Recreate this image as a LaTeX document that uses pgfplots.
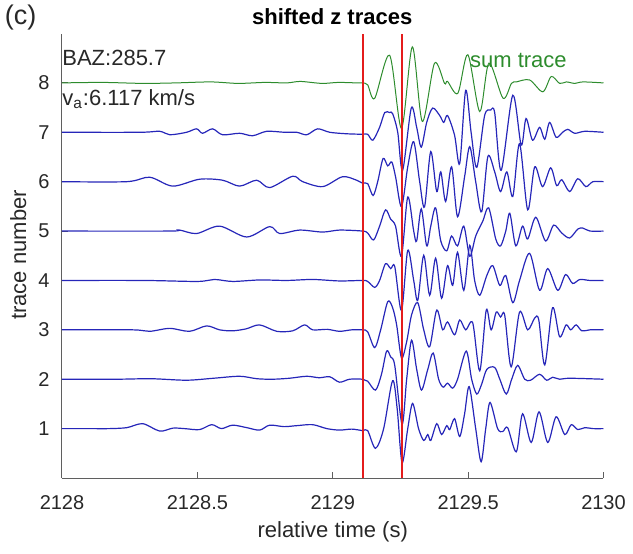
\documentclass[border=0pt]{standalone}
\usepackage{fontspec}
\setmainfont{Liberation Sans}
\usepackage{pgfplots}
\pgfplotsset{compat=1.18}

\definecolor{trblue}{RGB}{38,38,185}
\definecolor{trgreen}{RGB}{45,140,45}
\definecolor{trred}{RGB}{228,28,28}
\definecolor{axgray}{RGB}{95,95,95}
\definecolor{txtgray}{RGB}{40,40,40}

\begin{document}
\begin{tikzpicture}
\useasboundingbox (-31pt,-37.5pt) rectangle (285.5pt,239pt);
\begin{axis}[
  at={(0,0)}, anchor=south west,
  scale only axis, width=270.75pt, height=222.25pt,
  xmin=2128, xmax=2130, ymin=0, ymax=9,
  axis x line*=bottom, axis y line*=left,
  axis line style={axgray, line width=0.5pt},
  tick style={axgray, line width=0.5pt},
  tick align=inside, major tick length=3pt,
  xtick={2128,2128.5,2129,2129.5,2130},
  xticklabels={2128,2128.5,2129,2129.5,2130},
  ytick={1,2,3,4,5,6,7,8},
  /pgf/number format/assume math mode=true,
  ticklabel style={font=\fontsize{10}{12}\selectfont, text=txtgray},
  xticklabel style={anchor=base, inner sep=0pt, yshift=-15.5pt},
  yticklabel style={anchor=east, inner sep=0pt, xshift=-6pt},
  xlabel={relative time (s)},
  ylabel={trace number},
  label style={font=\fontsize{11}{13}\selectfont, text=txtgray},
  xlabel style={at={(axis description cs:0.5,-0.121)}, anchor=center, inner sep=0pt},
  ylabel style={at={(axis description cs:-0.081,0.502)}, anchor=center, rotate=0, inner sep=0pt},
  clip=false,
]

% trace 1
\addplot[trblue, line width=0.6pt, smooth, tension=0.5] table {
t y
2128.000 1.00
2128.100 1.00
2128.176 1.00
2128.240 1.02
2128.298 1.10
2128.361 0.95
2128.410 1.01
2128.453 1.00
2128.508 0.98
2128.553 1.08
2128.589 1.00
2128.630 1.07
2128.682 1.02
2128.730 0.97
2128.767 1.07
2128.820 1.04
2128.867 1.06
2128.926 1.08
2128.978 1.00
2129.025 0.97
2129.070 0.99
2129.110 0.96
2129.129 0.96
2129.158 0.60
2129.188 1.00
2129.221 1.97
2129.238 1.40
2129.256 0.31
2129.277 1.00
2129.295 1.51
2129.317 1.00
2129.336 0.76
2129.351 0.88
2129.362 0.76
2129.384 1.10
2129.402 0.88
2129.421 1.06
2129.432 0.98
2129.450 1.20
2129.469 0.84
2129.487 1.30
2129.504 1.85
2129.528 1.00
2129.548 0.33
2129.565 1.00
2129.581 1.53
2129.609 1.00
2129.628 0.94
2129.646 1.02
2129.678 0.53
2129.701 1.30
2129.733 0.72
2129.762 1.34
2129.794 0.72
2129.825 1.24
2129.857 0.88
2129.881 1.08
2129.905 0.98
2129.931 1.02
2129.961 1.00
2130.000 1.00
};

% trace 2
\addplot[trblue, line width=0.6pt, smooth, tension=0.5] table {
t y
2128.000 2.00
2128.200 2.00
2128.330 2.01
2128.460 1.98
2128.560 2.02
2128.656 2.06
2128.720 2.01
2128.778 2.00
2128.840 2.02
2128.904 2.06
2128.950 2.03
2128.989 2.05
2129.025 1.94
2129.062 2.00
2129.110 2.00
2129.129 1.96
2129.158 1.78
2129.180 2.10
2129.199 2.57
2129.214 2.45
2129.229 2.28
2129.256 1.09
2129.273 2.00
2129.291 2.79
2129.310 2.20
2129.328 1.78
2129.351 2.20
2129.371 2.53
2129.391 2.00
2129.408 1.84
2129.424 1.92
2129.443 1.82
2129.461 2.00
2129.493 2.57
2129.513 2.00
2129.532 1.70
2129.550 1.90
2129.569 2.20
2129.598 2.24
2129.617 2.00
2129.641 1.70
2129.661 2.00
2129.683 2.28
2129.709 2.00
2129.731 1.98
2129.764 2.10
2129.790 1.98
2129.812 2.04
2129.838 2.00
2129.875 2.02
2130.000 2.00
};

% trace 3
\addplot[trblue, line width=0.6pt, smooth, tension=0.5] table {
t y
2128.000 3.00
2128.261 3.00
2128.324 2.97
2128.398 3.03
2128.471 2.97
2128.534 3.08
2128.582 3.00
2128.630 2.98
2128.680 3.02
2128.730 3.10
2128.793 2.97
2128.852 2.98
2128.896 3.10
2128.926 3.00
2128.980 3.01
2129.025 2.97
2129.070 3.00
2129.110 3.00
2129.129 2.96
2129.155 2.64
2129.177 3.00
2129.203 3.57
2129.221 3.45
2129.236 3.10
2129.254 2.43
2129.273 2.76
2129.291 3.30
2129.314 3.55
2129.336 3.00
2129.358 2.66
2129.384 3.40
2129.406 3.00
2129.424 3.16
2129.450 2.90
2129.469 3.20
2129.491 3.00
2129.517 3.14
2129.543 2.17
2129.567 3.40
2129.585 3.00
2129.604 3.36
2129.620 3.26
2129.635 3.30
2129.659 2.25
2129.690 3.36
2129.720 3.00
2129.746 3.24
2129.761 3.20
2129.783 2.29
2129.812 3.45
2129.838 2.86
2129.862 3.10
2129.879 3.00
2129.899 3.10
2129.920 2.98
2129.950 3.00
2130.000 3.00
};

% trace 4
\addplot[trblue, line width=0.6pt, smooth, tension=0.5] table {
t y
2128.000 4.00
2128.300 4.00
2128.501 3.98
2128.563 4.02
2128.630 3.98
2128.730 4.01
2128.830 4.00
2128.926 4.02
2129.025 3.99
2129.110 4.00
2129.129 3.98
2129.155 3.86
2129.173 4.00
2129.195 4.34
2129.214 4.24
2129.229 4.28
2129.254 3.39
2129.277 4.61
2129.299 4.00
2129.314 3.60
2129.336 4.51
2129.358 3.70
2129.380 4.45
2129.402 3.64
2129.424 4.30
2129.443 3.90
2129.461 4.57
2129.484 3.80
2129.506 4.71
2129.524 4.00
2129.543 3.70
2129.569 4.10
2129.591 4.30
2129.617 3.90
2129.639 4.10
2129.665 3.55
2129.690 4.00
2129.727 4.55
2129.764 3.80
2129.794 4.24
2129.831 3.80
2129.860 4.12
2129.886 3.94
2129.913 4.02
2129.950 4.00
2130.000 4.00
};

% trace 5
\addplot[trblue, line width=0.6pt, smooth, tension=0.5] table {
t y
2128.000 5.00
2128.398 5.00
2128.434 5.02
2128.497 4.95
2128.582 5.10
2128.682 4.88
2128.767 5.09
2128.804 4.95
2128.878 5.02
2128.963 4.98
2129.025 5.02
2129.110 5.00
2129.129 4.96
2129.151 4.82
2129.173 5.10
2129.195 5.43
2129.214 5.24
2129.232 5.10
2129.254 4.49
2129.277 5.69
2129.299 5.00
2129.310 4.80
2129.327 5.45
2129.347 4.70
2129.362 5.10
2129.380 5.47
2129.399 4.80
2129.421 4.60
2129.439 4.90
2129.461 4.70
2129.484 5.10
2129.506 4.49
2129.528 4.90
2129.554 5.20
2129.576 5.47
2129.602 4.84
2129.620 4.70
2129.639 5.00
2129.654 5.36
2129.676 4.70
2129.701 5.10
2129.720 4.84
2129.750 5.28
2129.786 4.80
2129.816 5.12
2129.846 4.96
2129.875 4.86
2129.905 5.04
2129.924 5.06
2129.950 5.00
2130.000 5.00
};

% trace 6
\addplot[trblue, line width=0.6pt, smooth, tension=0.5] table {
t y
2128.000 6.00
2128.239 6.00
2128.324 6.09
2128.409 5.91
2128.508 6.05
2128.593 6.03
2128.656 5.91
2128.719 6.03
2128.767 5.88
2128.852 6.11
2128.889 6.00
2128.963 5.90
2129.036 6.10
2129.088 6.03
2129.110 5.97
2129.129 5.96
2129.149 5.72
2129.166 6.00
2129.186 6.47
2129.203 6.32
2129.218 6.40
2129.232 6.10
2129.254 5.49
2129.277 6.30
2129.299 6.81
2129.321 6.00
2129.339 5.49
2129.362 6.61
2129.384 5.80
2129.399 6.20
2129.417 5.60
2129.439 6.30
2129.461 5.29
2129.487 6.10
2129.506 6.71
2129.528 6.00
2129.550 5.39
2129.573 6.51
2129.598 6.20
2129.620 5.80
2129.643 6.20
2129.665 5.70
2129.690 6.77
2129.720 5.43
2129.746 6.30
2129.775 5.90
2129.805 6.28
2129.827 5.92
2129.846 6.04
2129.875 5.80
2129.905 6.06
2129.935 5.90
2129.961 6.00
2130.000 6.00
};

% trace 7
\addplot[trblue, line width=0.6pt, smooth, tension=0.5] table {
t y
2128.000 7.00
2128.287 7.00
2128.361 7.02
2128.398 6.95
2128.460 7.00
2128.497 7.07
2128.519 6.98
2128.556 7.07
2128.593 6.95
2128.656 6.98
2128.704 6.93
2128.756 7.02
2128.822 7.00
2128.867 7.00
2128.904 6.95
2128.944 7.07
2128.989 7.00
2129.051 6.97
2129.110 6.96
2129.129 6.96
2129.148 6.84
2129.173 7.10
2129.192 7.40
2129.210 7.40
2129.221 7.38
2129.240 7.00
2129.258 6.23
2129.290 7.49
2129.310 7.10
2129.327 6.70
2129.347 7.20
2129.369 7.49
2129.395 7.34
2129.410 7.20
2129.424 7.34
2129.450 6.94
2129.469 6.37
2129.491 7.85
2129.511 7.00
2129.532 6.29
2129.561 7.34
2129.583 7.45
2129.598 7.40
2129.622 6.23
2129.665 7.75
2129.696 6.74
2129.714 7.28
2129.738 6.84
2129.764 7.10
2129.783 6.86
2129.801 7.20
2129.825 6.90
2129.849 7.00
2129.868 7.06
2129.894 6.98
2129.931 7.02
2130.000 7.00
};

% sum trace
\addplot[trgreen, line width=0.5pt, smooth, tension=0.5] table {
t y
2128.000 8.00
2128.150 8.01
2128.300 7.99
2128.420 8.00
2128.550 8.02
2128.650 7.99
2128.750 8.01
2128.830 8.00
2128.880 8.03
2128.960 7.99
2129.020 8.01
2129.090 8.00
2129.110 8.00
2129.129 7.96
2129.155 7.69
2129.210 8.56
2129.254 7.08
2129.294 8.73
2129.331 7.22
2129.376 8.40
2129.413 7.99
2129.424 8.03
2129.462 7.79
2129.499 8.57
2129.543 7.42
2129.577 8.40
2129.629 7.69
2129.660 7.99
2129.678 8.02
2129.727 8.06
2129.776 7.82
2129.807 8.13
2129.838 7.99
2129.863 8.02
2129.894 7.99
2129.924 8.02
2130.000 8.00
};

% picks
\addplot[trred, line width=1pt] coordinates {(2129.112,0) (2129.112,9)};
\addplot[trred, line width=1pt] coordinates {(2129.255,0) (2129.255,9)};

\node[anchor=center, inner sep=0pt, font=\bfseries\fontsize{11}{13}\selectfont] at (axis description cs:0.499,1.037) {shifted z traces};
\node[anchor=west, inner sep=0pt, font=\fontsize{11}{13}\selectfont, text=txtgray] at (axis description cs:0,0.945) {BAZ:285.7};
\node[anchor=west, inner sep=0pt, font=\fontsize{11}{13}\selectfont, text=txtgray] at (axis description cs:0,0.853) {v\textsubscript{a}:6.117 km/s};
\node[anchor=west, inner sep=0pt, font=\fontsize{11}{13}\selectfont, text=trgreen] at (axis description cs:0.753,0.940) {sum trace};
\node[anchor=west, inner sep=0pt, font=\fontsize{13.5}{15}\selectfont, text=txtgray] at (axis description cs:-0.106,1.035) {(c)};
\end{axis}
\end{tikzpicture}
\end{document}
